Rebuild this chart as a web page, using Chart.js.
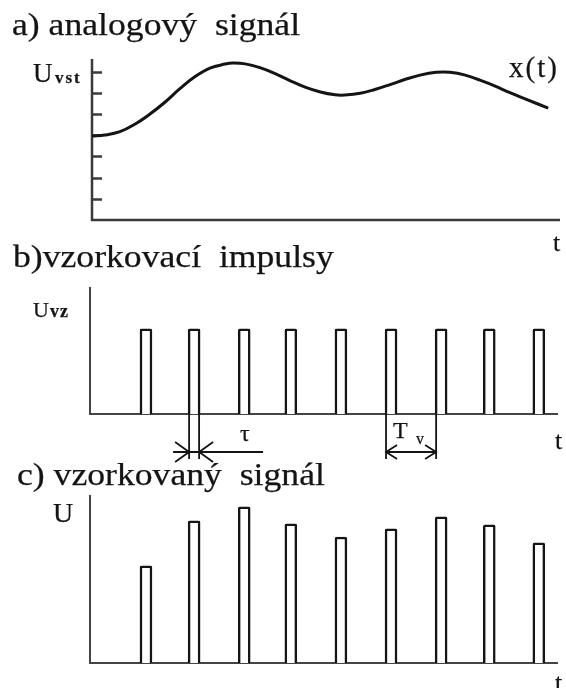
<!DOCTYPE html>
<html>
<head>
<meta charset="utf-8">
<script src="https://cdn.jsdelivr.net/npm/chart.js@4.4.0/dist/chart.umd.min.js"></script>
<style>
  html, body { margin: 0; padding: 0; background: #fff; }
  #page { position: relative; width: 566px; height: 688px; overflow: hidden;
          font-family: "Liberation Serif", "Times New Roman", serif; color: #141414; }
  #page canvas { position: absolute; left: 0; }
  .lbl { position: absolute; white-space: pre; line-height: 1; transform-origin: 0 0;
         -webkit-text-stroke: 0.25px #141414; }
  .ttl { font-size: 31px; transform: scaleX(1.15); }
</style>
</head>
<body>
<div id="page">
  <canvas id="chA" width="566" height="240" style="top:0"></canvas>
  <canvas id="chB" width="566" height="225" style="top:240px"></canvas>
  <canvas id="chC" width="566" height="223" style="top:465px"></canvas>
</div>

<script>
// ── data ─────────────────────────────────────────
// time axis in sampling periods Tv, amplitude in tick steps

// a) analog signal x(t)
const curveT = [0, 0.26, 0.57, 0.88, 1.18, 1.49, 1.79, 2.10, 2.40, 2.71, 2.87, 3.12,
                3.42, 3.73, 4.03, 4.34, 4.65, 4.95, 5.15, 5.46, 5.76, 6.07, 6.37, 6.68,
                7.01, 7.29, 7.60, 7.90, 8.21, 8.51, 8.82, 9.29];
const curveU = [3.96, 4.01, 4.17, 4.53, 5.00, 5.57, 6.20, 6.77, 7.17, 7.36, 7.41, 7.37,
                7.19, 6.91, 6.58, 6.27, 6.04, 5.91, 5.90, 5.98, 6.16, 6.39, 6.63, 6.84,
                6.97, 6.97, 6.84, 6.60, 6.32, 6.01, 5.72, 5.28];
const tickU = [1, 2, 3, 4, 5, 6, 7];

// b) sampling pulses
const pulseT = [1.14, 2.12, 3.14, 4.09, 5.11, 6.13, 7.15, 8.13, 9.14];
const pulseU = [1, 1, 1, 1, 1, 1, 1, 1, 1];

// c) sampled signal (pulse heights)
const sampleU = [4.58, 6.70, 7.36, 6.56, 5.94, 6.32, 6.89, 6.51, 5.66];

const T_MAX = 9.53;
const INK = '#141414';

// ── text labels ─────────────────────────────────
// baseline sits at 0.8375em from the top of a line-height:1 box (Liberation Serif)
const page = document.getElementById('page');
function label(text, left, baseline, size, extra) {
  const d = document.createElement('div');
  d.className = 'lbl' + (extra && extra.cls ? ' ' + extra.cls : '');
  d.textContent = text;
  d.style.left = left + 'px';
  d.style.top = (baseline - 0.8375 * size) + 'px';
  d.style.fontSize = size + 'px';
  if (extra && extra.style) Object.assign(d.style, extra.style);
  page.appendChild(d);
}

label('a) analogový  signál', 12, 35, 31, { cls: 'ttl' });
label('b)vzorkovací  impulsy', 13, 267, 31, { cls: 'ttl' });
label('c) vzorkovaný  signál', 17, 485, 31, { cls: 'ttl' });

label('U', 33, 83, 27);
label('vst', 55, 83, 17, { style: { fontWeight: 'bold', letterSpacing: '2px' } });
label('x(t)', 509, 77, 29, { style: { letterSpacing: '2px' } });
label('t', 553, 252, 26);

label('U', 33, 317, 22);
label('vz', 50, 317, 18, { style: { fontWeight: 'bold', letterSpacing: '1px' } });
label('τ', 240, 441, 24);
label('T', 393, 438, 24);
label('v', 416, 444, 16);
label('t', 555, 450, 26);

label('U', 53, 522, 28);
label('t', 555, 692, 26);

// ── plugins ─────────────────────────────────────
// plain L-shaped axes, optional inward tick marks on the y axis
const axesPlugin = {
  id: 'axes',
  beforeDatasetsDraw(chart, args, opts) {
    const { ctx, chartArea: a } = chart;
    ctx.save();
    ctx.strokeStyle = opts.color || '#444';
    ctx.lineWidth = opts.width || 2;
    ctx.beginPath();
    ctx.moveTo(a.left, a.top);
    ctx.lineTo(a.left, a.bottom);
    ctx.lineTo(a.right, a.bottom);
    ctx.stroke();
    if (opts.ticks) {
      const y = chart.scales.y;
      ctx.beginPath();
      opts.ticks.forEach(v => {
        const py = Math.round(y.getPixelForValue(v)) + 0.5;
        ctx.moveTo(a.left, py);
        ctx.lineTo(a.left + 10, py);
      });
      ctx.stroke();
    }
    ctx.restore();
  }
};

// tau and Tv dimension marks under the pulses
function arrowHead(ctx, tipX, y, dir, len, half) {
  ctx.moveTo(tipX - dir * len, y - half);
  ctx.lineTo(tipX, y);
  ctx.lineTo(tipX - dir * len, y + half);
}
const dimPlugin = {
  id: 'dims',
  afterDatasetsDraw(chart) {
    const { ctx } = chart;
    const bars = chart.getDatasetMeta(0).data;
    const y0 = chart.scales.y.getPixelForValue(0);
    const yArrow = y0 + 38;
    const yEnd = y0 + 45;
    const edges = i => {
      const p = bars[i].getProps(['x', 'width'], true);
      return [p.x - p.width / 2, p.x + p.width / 2];
    };
    ctx.save();
    ctx.strokeStyle = INK;
    ctx.lineWidth = 1.8;

    // tau: width of the 2nd pulse, arrows pointing inward
    const [l, r] = edges(1);
    ctx.beginPath();
    ctx.moveTo(l + 1, y0); ctx.lineTo(l + 1, yEnd);
    ctx.moveTo(r - 1, y0); ctx.lineTo(r - 1, yEnd);
    ctx.moveTo(l - 15, yArrow); ctx.lineTo(r + 63, yArrow);
    arrowHead(ctx, l + 1, yArrow, 1, 14, 10);
    arrowHead(ctx, r - 1, yArrow, -1, 14, 10);
    ctx.stroke();

    // Tv: period between 6th and 7th pulse, arrows pointing outward
    const a = edges(5)[0] + 1, b = edges(6)[0] + 1;
    ctx.beginPath();
    ctx.moveTo(a, y0); ctx.lineTo(a, yEnd);
    ctx.moveTo(b, y0); ctx.lineTo(b, yEnd);
    ctx.moveTo(a, yArrow); ctx.lineTo(b, yArrow);
    arrowHead(ctx, a, yArrow, -1, 11, 7);
    arrowHead(ctx, b, yArrow, 1, 11, 7);
    ctx.stroke();
    ctx.restore();
  }
};

// ── charts ──────────────────────────────────────
Chart.defaults.devicePixelRatio = 1;

function baseOptions(pad, yMax, axes) {
  return {
    responsive: false,
    animation: false,
    events: [],
    layout: { padding: pad },
    plugins: { legend: { display: false }, tooltip: { enabled: false }, axes },
    scales: {
      x: { type: 'linear', display: false, min: 0, max: T_MAX, offset: false },
      y: { type: 'linear', display: false, min: 0, max: yMax }
    }
  };
}

function pulseDataset(heights) {
  return {
    type: 'bar',
    data: pulseT.map((t, i) => ({ x: t, y: heights[i] })),
    backgroundColor: '#fff',
    borderColor: INK,
    borderWidth: 2.5,
    borderSkipped: 'bottom',
    borderRadius: { topLeft: 2, topRight: 2 },
    barThickness: 12
  };
}

// a) analog signal
new Chart(document.getElementById('chA'), {
  type: 'line',
  data: {
    datasets: [{
      data: curveT.map((t, i) => ({ x: t, y: curveU[i] })),
      borderColor: INK,
      borderWidth: 3,
      pointRadius: 0,
      tension: 0.4
    }]
  },
  options: baseOptions({ left: 92, right: 6, top: 59, bottom: 20 }, 7.6,
                       { color: '#3a3a3a', width: 2.5, ticks: tickU }),
  plugins: [axesPlugin]
});

// b) sampling pulses
new Chart(document.getElementById('chB'), {
  type: 'bar',
  data: { datasets: [pulseDataset(pulseU)] },
  options: baseOptions({ left: 90, right: 8, top: 47, bottom: 51 }, 1.49,
                       { color: '#444', width: 2 }),
  plugins: [axesPlugin, dimPlugin]
});

// c) sampled signal
new Chart(document.getElementById('chC'), {
  type: 'bar',
  data: { datasets: [pulseDataset(sampleU)] },
  options: baseOptions({ left: 90, right: 8, top: 30, bottom: 25 }, 7.92,
                       { color: '#444', width: 2 }),
  plugins: [axesPlugin]
});
</script>
</body>
</html>
